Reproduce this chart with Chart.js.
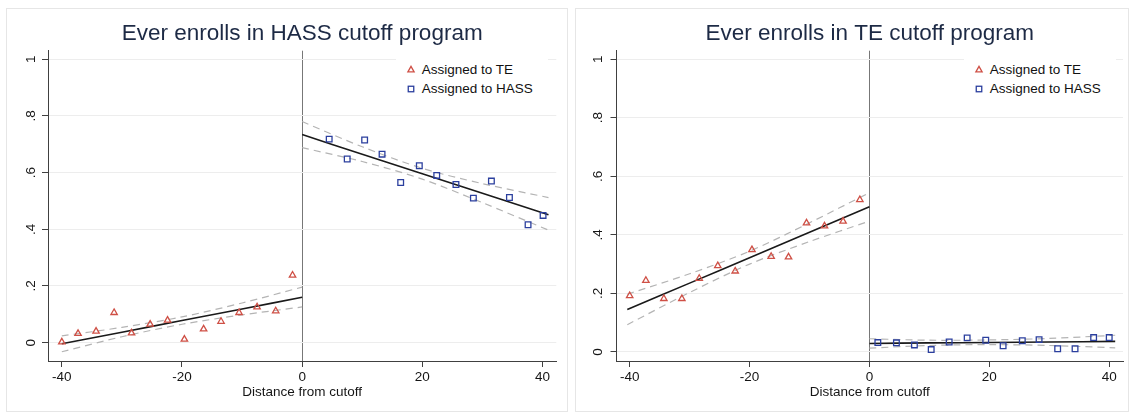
<!DOCTYPE html>
<html>
<head>
<meta charset="utf-8">
<script src="https://cdn.jsdelivr.net/npm/chart.js@4.4.1/dist/chart.umd.min.js"></script>
<style>
  html, body { margin: 0; padding: 0; background: #fff; }
  body { width: 1130px; height: 413px; position: relative; overflow: hidden;
         font-family: "Liberation Sans", Arial, Helvetica, sans-serif; }
  .frame { position: absolute; top: 8px; height: 404px; border: 1px solid #e6e6e6; box-sizing: border-box; }
  .holder { position: absolute; top: 0; width: 565px; height: 413px; }
  .holder canvas { position: absolute; left: 0; top: 0; }
  .legend { position: absolute; background: #fff; color: #111; font-size: 13.5px; }
  .legend .item { position: absolute; white-space: nowrap; height: 18px; line-height: 18px; }
  .legend svg { position: absolute; overflow: visible; }
</style>
</head>
<body>
<div class="frame" style="left:6px;width:562px;"></div>
<div class="frame" style="left:575px;width:554px;"></div>
<div class="holder" style="left:0;"><canvas id="hassPanel" width="565" height="413"></canvas></div>
<div class="holder" style="left:565px;"><canvas id="tePanel" width="565" height="413"></canvas></div>
<div class="legend" id="legendHass" style="left:396px;top:55px;width:152px;height:50px;"></div>
<div class="legend" id="legendTe" style="left:964px;top:55px;width:152px;height:50px;"></div>

<script>
// ---- axis ticks ----
const xTicks = [-40, -20, 0, 20, 40];
const xTickLabels = ['-40', '-20', '0', '20', '40'];
const yTicks = [0, 0.2, 0.4, 0.6, 0.8, 1];
const yTickLabels = ['0', '.2', '.4', '.6', '.8', '1'];
const legendLabels = ['Assigned to TE', 'Assigned to HASS'];

// ---- binned means (distance from cutoff) ----
const teBins = [-40, -37.3, -34.3, -31.3, -28.4, -25.3, -22.4, -19.6, -16.4, -13.5, -10.5, -7.5, -4.4, -1.6];
const hassBinsHass = [4.5, 7.5, 10.4, 13.3, 16.4, 19.5, 22.4, 25.6, 28.5, 31.5, 34.5, 37.6, 40.1];
const hassBinsTe = [1.4, 4.5, 7.5, 10.3, 13.3, 16.3, 19.4, 22.3, 25.5, 28.3, 31.4, 34.3, 37.4, 40];

// Ever enrolls in HASS cutoff program
const hassProgTe = [0.002, 0.032, 0.040, 0.106, 0.034, 0.065, 0.079, 0.012, 0.048, 0.075, 0.106, 0.126, 0.112, 0.238];
const hassProgHass = [0.718, 0.648, 0.715, 0.665, 0.565, 0.624, 0.590, 0.558, 0.510, 0.570, 0.512, 0.416, 0.449];

// Ever enrolls in TE cutoff program
const teProgTe = [0.192, 0.244, 0.182, 0.182, 0.251, 0.294, 0.276, 0.349, 0.326, 0.324, 0.440, 0.430, 0.446, 0.520];
const teProgHass = [0.032, 0.031, 0.024, 0.008, 0.034, 0.048, 0.040, 0.021, 0.038, 0.042, 0.011, 0.011, 0.049, 0.049];

// ---- linear fits with 95% confidence bands ----
const fitXLeftA = [-40, -30, -20, -10, 0];
const fitXLeftB = [-40.4, -30, -20, -10, 0];
const fitXRight = [0, 10, 20, 30, 41];

const hassProgTeFit = [-0.004, 0.037, 0.078, 0.119, 0.160];
const hassProgTeUp  = [0.024, 0.054, 0.091, 0.140, 0.196];
const hassProgTeLo  = [-0.032, 0.021, 0.065, 0.098, 0.126];
const hassProgHassFit = [0.734, 0.665, 0.596, 0.527, 0.451];
const hassProgHassUp  = [0.780, 0.691, 0.615, 0.561, 0.512];
const hassProgHassLo  = [0.688, 0.639, 0.577, 0.494, 0.397];

const teProgTeFit = [0.145, 0.235, 0.322, 0.409, 0.496];
const teProgTeUp  = [0.197, 0.267, 0.344, 0.441, 0.544];
const teProgTeLo  = [0.093, 0.203, 0.300, 0.377, 0.447];
const teProgHassFit = [0.029, 0.031, 0.032, 0.034, 0.036];
const teProgHassUp  = [0.045, 0.040, 0.041, 0.046, 0.057];
const teProgHassLo  = [0.013, 0.022, 0.025, 0.022, 0.014];

// ---- styling ----
const FONT = '"Liberation Sans", Arial, Helvetica, sans-serif';
const RED = '#cf5046';
const BLUE = '#2b3f9e';
const INK = '#151515';
const AXIS = '#404040';

const pts = (xs, ys) => xs.map((x, i) => ({ x: x, y: ys[i] }));

function markers(label, xs, ys, color, style, radius) {
  return {
    label: label, data: pts(xs, ys), showLine: false,
    pointStyle: style, pointRadius: radius, pointHoverRadius: radius,
    pointBorderColor: color, pointBackgroundColor: 'rgba(0,0,0,0)', pointBorderWidth: 1.3
  };
}
function fitLine(xs, ys) {
  return { data: pts(xs, ys), showLine: true, pointRadius: 0, borderColor: '#1a1a1a', borderWidth: 1.6, tension: 0.3 };
}
function bandLine(xs, ys) {
  return { data: pts(xs, ys), showLine: true, pointRadius: 0, borderColor: '#b4b4b4', borderWidth: 1.2,
           borderDash: [7, 5], tension: 0.3 };
}

function makePanel(id, p) {
  new Chart(document.getElementById(id), {
    type: 'scatter',
    data: {
      datasets: [
        markers(legendLabels[0], teBins, p.te, RED, 'triangle', 3.7),
        markers(legendLabels[1], p.hassX, p.hass, BLUE, 'rect', 4),
        fitLine(p.teFitX, p.teFit),
        fitLine(fitXRight, p.hassFit),
        bandLine(p.teFitX, p.teUp), bandLine(p.teFitX, p.teLo),
        bandLine(fitXRight, p.hassUp), bandLine(fitXRight, p.hassLo)
      ]
    },
    options: {
      responsive: false, animation: false, devicePixelRatio: 1,
      events: [],
      layout: { padding: { left: 0, right: p.padRight, top: 0, bottom: 0 } },
      plugins: {
        legend: { display: false },
        tooltip: { enabled: false },
        title: {
          display: true, text: p.title, color: '#1d2a45', fullSize: false,
          font: { family: FONT, size: 22.5, weight: 'normal', lineHeight: 1.2 },
          padding: { top: 20.5, bottom: 3.2 }
        }
      },
      scales: {
        x: {
          type: 'linear', min: p.xMin, max: p.xMax,
          afterBuildTicks: s => { s.ticks = xTicks.map(v => ({ value: v })); },
          afterFit: s => { s.height = 52; s.paddingLeft = 0; s.paddingRight = 0; },
          ticks: { color: INK, font: { family: FONT, size: 13.5 }, padding: 2.5, minRotation: 0, maxRotation: 0,
                   callback: (v, i) => xTickLabels[i] },
          grid: { color: c => (c.tick && c.tick.value === 0) ? '#777777' : 'rgba(0,0,0,0)',
                  lineWidth: 1, tickColor: AXIS, tickLength: 6 },
          border: { color: AXIS, width: 1 },
          title: { display: true, text: 'Distance from cutoff', color: INK,
                   font: { family: FONT, size: 13.5 }, padding: { top: 0, bottom: 13 } }
        },
        y: {
          type: 'linear', min: p.yMin, max: p.yMax,
          afterBuildTicks: s => { s.ticks = yTicks.map(v => ({ value: v })); },
          afterFit: s => { s.width = p.yWidth; s.paddingTop = 0; s.paddingBottom = 0; },
          ticks: { color: INK, font: { family: FONT, size: 13.5 }, minRotation: 90, maxRotation: 90,
                   crossAlign: 'center', padding: p.yPad, callback: (v, i) => yTickLabels[i] },
          grid: { color: '#ededed', lineWidth: 1, tickColor: AXIS, tickLength: 6 },
          border: { color: AXIS, width: 1 }
        }
      }
    }
  });
}

makePanel('hassPanel', {
  title: 'Ever enrolls in HASS cutoff program',
  te: hassProgTe, hassX: hassBinsHass, hass: hassProgHass,
  teFitX: fitXLeftA, teFit: hassProgTeFit, teUp: hassProgTeUp, teLo: hassProgTeLo,
  hassFit: hassProgHassFit, hassUp: hassProgHassUp, hassLo: hassProgHassLo,
  xMin: -42.3, xMax: 42.3, yMin: -0.0646, yMax: 1.03,
  yWidth: 48, yPad: 5, padRight: 8.7
});
makePanel('tePanel', {
  title: 'Ever enrolls in TE cutoff program',
  te: teProgTe, hassX: hassBinsTe, hass: teProgHass,
  teFitX: fitXLeftB, teFit: teProgTeFit, teUp: teProgTeUp, teLo: teProgTeLo,
  hassFit: teProgHassFit, hassUp: teProgHassUp, hassLo: teProgHassLo,
  xMin: -42.2, xMax: 42.3, yMin: -0.031, yMax: 1.029,
  yWidth: 51.5, yPad: 7, padRight: 7
});

// Legend keys: hollow triangle and hollow square
function buildLegend(id) {
  const box = document.getElementById(id);
  const keys = [
    { color: RED, shape: '<polygon points="0,-3.6 3.12,1.8 -3.12,1.8" />' },
    { color: BLUE, shape: '<rect x="-2.75" y="-2.75" width="5.5" height="5.5" />' }
  ];
  legendLabels.forEach((txt, i) => {
    const cy = 15 + i * 19.3;
    const svg = document.createElementNS('http://www.w3.org/2000/svg', 'svg');
    svg.setAttribute('width', '10'); svg.setAttribute('height', '10');
    svg.setAttribute('viewBox', '-5 -5 10 10');
    svg.style.left = (14.7 - 5) + 'px'; svg.style.top = (cy - 5) + 'px';
    svg.innerHTML = '<g fill="none" stroke="' + keys[i].color + '" stroke-width="1.3">' + keys[i].shape + '</g>';
    box.appendChild(svg);
    const item = document.createElement('div');
    item.className = 'item';
    item.textContent = txt;
    item.style.left = '25.7px'; item.style.top = (cy - 9) + 'px';
    box.appendChild(item);
  });
}
buildLegend('legendHass');
buildLegend('legendTe');
</script>
</body>
</html>
